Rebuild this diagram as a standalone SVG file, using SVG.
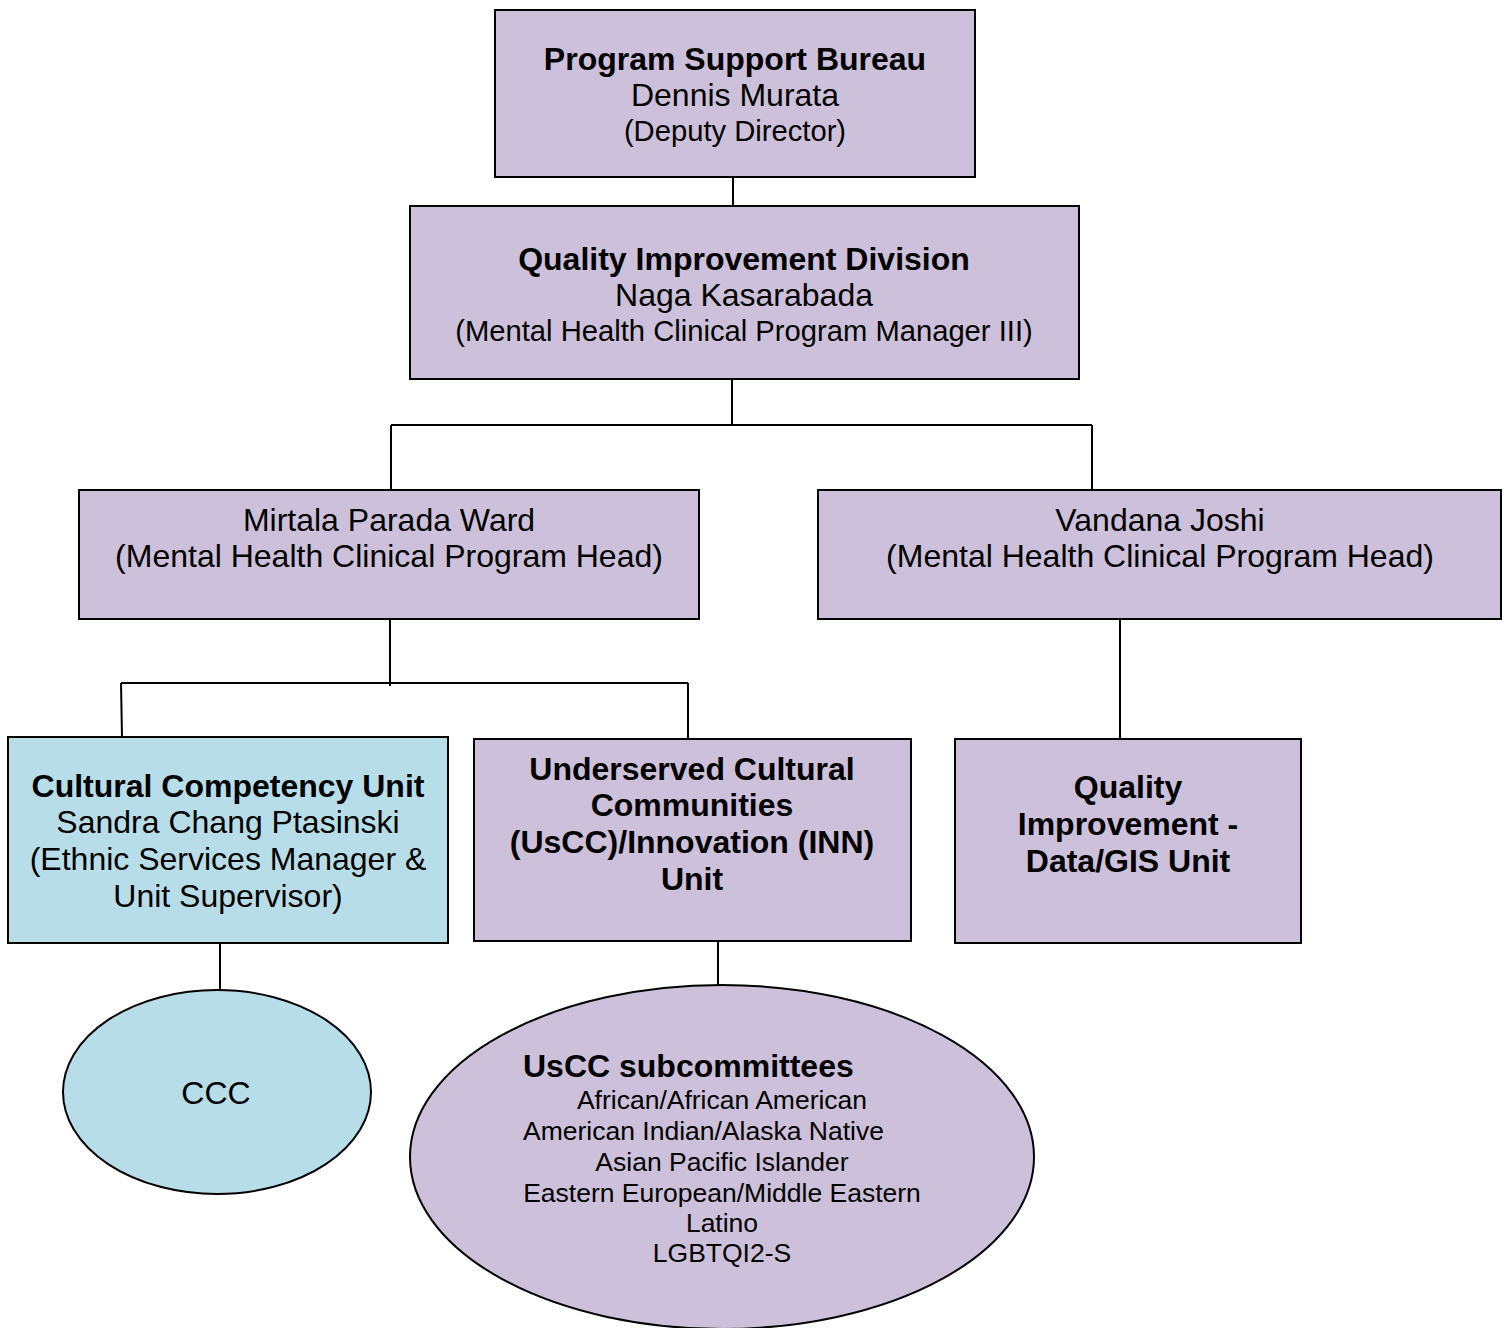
<svg xmlns="http://www.w3.org/2000/svg" width="1511" height="1328" viewBox="0 0 1511 1328">
<style>
.p{fill:#CCC0DA;stroke:#000;stroke-width:2}
.b{fill:#B7DEE8;stroke:#000;stroke-width:2}
text{font-family:"Liberation Sans",Arial,sans-serif;fill:#000;font-size:32px;text-anchor:middle}
.bd{font-weight:bold}
.s{font-size:29.2px}
.e{font-size:26.5px}
.l{text-anchor:start}
.c{stroke:#000;stroke-width:2;fill:none}
</style>
<rect width="1511" height="1328" fill="#fff"/>
<g id="connectors">
<path class="c" d="M733 177V206"/>
<path class="c" d="M732 379V425M391 425H1092M391 425V490M1092 425V490"/>
<path class="c" d="M390 619V686M121 683H688M121 683L122 737M688 683V739"/>
<path class="c" d="M1120 619V741"/>
<path class="c" d="M220 943V990"/>
<path class="c" d="M718 941V985"/>
</g>
<g id="program-support-bureau">
<rect class="p" x="495" y="10" width="480" height="167"/>
<text x="735" y="70" class="bd">Program Support Bureau</text>
<text x="735" y="106">Dennis Murata</text>
<text x="735" y="141" class="s">(Deputy Director)</text>
</g>
<g id="quality-improvement-division">
<rect class="p" x="410" y="206" width="669" height="173"/>
<text x="744" y="270" class="bd">Quality Improvement Division</text>
<text x="744" y="306">Naga Kasarabada</text>
<text x="744" y="341" class="s">(Mental Health Clinical Program Manager III)</text>
</g>
<g id="mirtala-parada-ward">
<rect class="p" x="79" y="490" width="620" height="129"/>
<text x="389" y="531">Mirtala Parada Ward</text>
<text x="389" y="567">(Mental Health Clinical Program Head)</text>
</g>
<g id="vandana-joshi">
<rect class="p" x="818" y="490" width="683" height="129"/>
<text x="1160" y="531">Vandana Joshi</text>
<text x="1160" y="567">(Mental Health Clinical Program Head)</text>
</g>
<g id="cultural-competency-unit">
<rect class="b" x="8" y="737" width="440" height="206"/>
<text x="228" y="797" class="bd">Cultural Competency Unit</text>
<text x="228" y="833">Sandra Chang Ptasinski</text>
<text x="228" y="870">(Ethnic Services Manager &amp;</text>
<text x="228" y="907">Unit Supervisor)</text>
</g>
<g id="uscc-inn-unit">
<rect class="p" x="474" y="739" width="437" height="202"/>
<text x="692" y="780" class="bd">Underserved Cultural</text>
<text x="692" y="816" class="bd">Communities</text>
<text x="692" y="853" class="bd">(UsCC)/Innovation (INN)</text>
<text x="692" y="890" class="bd">Unit</text>
</g>
<g id="qi-data-gis-unit">
<rect class="p" x="955" y="739" width="346" height="204"/>
<text x="1128" y="798" class="bd">Quality</text>
<text x="1128" y="835" class="bd">Improvement -</text>
<text x="1128" y="872" class="bd">Data/GIS Unit</text>
</g>
<g id="ccc">
<ellipse class="b" cx="217" cy="1092" rx="154" ry="102"/>
<text x="216" y="1104">CCC</text>
</g>
<g id="uscc-subcommittees">
<ellipse class="p" cx="722" cy="1157" rx="312" ry="172"/>
<text x="523" y="1077" class="bd l">UsCC subcommittees</text>
<text x="722" y="1109" class="e">African/African American</text>
<text x="523" y="1140" class="e l">American Indian/Alaska Native</text>
<text x="722" y="1171" class="e">Asian Pacific Islander</text>
<text x="722" y="1202" class="e">Eastern European/Middle Eastern</text>
<text x="722" y="1232" class="e">Latino</text>
<text x="722" y="1262" class="e">LGBTQI2-S</text>
</g>
</svg>
